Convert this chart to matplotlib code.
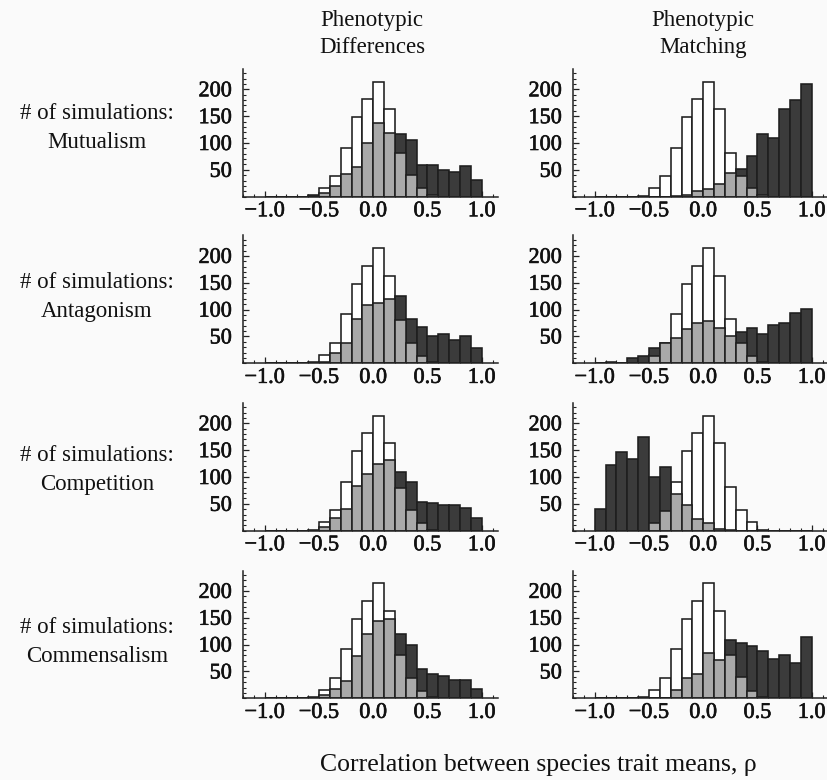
import numpy as np
import matplotlib
matplotlib.use("Agg")
import matplotlib.pyplot as plt
import matplotlib.patheffects as pe
from matplotlib.ticker import MultipleLocator

plt.rcParams['font.family'] = ['Liberation Serif', 'DejaVu Serif']

# ---- data -------------------------------------------------------------
# left edges of the 0.1-wide correlation bins, -1.0 ... 0.9
bin_left = [-1.0, -0.9, -0.8, -0.7, -0.6, -0.5, -0.4, -0.3, -0.2, -0.1,
            0.0, 0.1, 0.2, 0.3, 0.4, 0.5, 0.6, 0.7, 0.8, 0.9]
bin_width = 0.1

column_titles = ["Phenotypic\nDifferences", "Phenotypic\nMatching"]
row_labels = ["Mutualism", "Antagonism", "Competition", "Commensalism"]

# white (background) histogram, same in every panel
white_counts = [0, 0, 0, 0, 2, 16, 38, 91, 148, 182, 214, 163, 82, 39, 16, 2, 0, 0, 0, 0]

# light gray histograms
gray_mut_diff = [0, 0, 0, 0, 0, 7, 19, 42, 55, 100, 137, 119, 81, 40, 16, 3, 0, 0, 0, 0]
gray_mut_match = [0, 0, 0, 0, 0, 0, 0, 2, 4, 10, 14, 24, 45, 39, 16, 4, 0, 0, 0, 0]
gray_ant_diff = [0, 0, 0, 0, 0, 3, 19, 38, 82, 108, 112, 120, 81, 38, 14, 3, 0, 0, 0, 0]
gray_ant_match = [0, 0, 0, 0, 0, 14, 38, 48, 64, 75, 78, 65, 51, 38, 14, 3, 0, 0, 0, 0]
gray_comp_diff = [0, 0, 0, 0, 0, 6, 24, 40, 84, 106, 125, 132, 79, 38, 14, 2, 0, 0, 0, 0]
gray_comp_match = [0, 0, 0, 0, 0, 15, 37, 68, 47, 22, 14, 4, 2, 0, 0, 0, 0, 0, 0, 0]
gray_comm_diff = [0, 0, 0, 0, 0, 6, 17, 32, 78, 120, 144, 147, 80, 38, 14, 3, 0, 0, 0, 0]
gray_comm_match = [0, 0, 0, 0, 0, 0, 0, 16, 38, 45, 85, 72, 80, 39, 14, 3, 0, 0, 0, 0]

# dark histograms
dark_mut_diff = [0, 0, 0, 0, 3, 0, 0, 0, 0, 0, 0, 0, 116, 106, 59, 59, 50, 46, 57, 32]
dark_mut_match = [0, 0, 0, 0, 0, 0, 0, 0, 0, 0, 0, 0, 0, 51, 75, 117, 110, 164, 180, 209]
dark_ant_diff = [0, 0, 0, 0, 1, 0, 0, 0, 0, 0, 0, 0, 125, 83, 68, 51, 54, 43, 51, 29]
dark_ant_match = [0, 3, 1, 9, 14, 28, 0, 0, 0, 0, 0, 0, 0, 58, 65, 54, 71, 75, 93, 102]
dark_comp_diff = [0, 0, 0, 0, 0, 0, 0, 0, 0, 0, 0, 0, 109, 91, 54, 51, 48, 48, 42, 23]
dark_comp_match = [40, 122, 146, 134, 174, 100, 118, 0, 0, 0, 0, 0, 0, 0, 0, 0, 0, 0, 0, 0]
dark_comm_diff = [0, 0, 0, 0, 1, 0, 0, 0, 0, 0, 0, 0, 120, 99, 55, 45, 42, 34, 34, 18]
dark_comm_match = [0, 0, 0, 0, 0, 0, 0, 0, 0, 0, 0, 0, 109, 103, 97, 89, 74, 80, 65, 114]

gray_series = [[gray_mut_diff, gray_mut_match],
               [gray_ant_diff, gray_ant_match],
               [gray_comp_diff, gray_comp_match],
               [gray_comm_diff, gray_comm_match]]
dark_series = [[dark_mut_diff, dark_mut_match],
               [dark_ant_diff, dark_ant_match],
               [dark_comp_diff, dark_comp_match],
               [dark_comm_diff, dark_comm_match]]

x_ticks = [-1.0, -0.5, 0.0, 0.5, 1.0]
x_ticklabels = ["\u22121.0", "\u22120.5", "0.0", "0.5", "1.0"]
y_ticks = [50, 100, 150, 200]

# ---- layout -----------------------------------------------------------
W, H = 827, 780
bg = '#fafafa'
fig = plt.figure(figsize=(W / 100, H / 100), dpi=100, facecolor=bg)

col_left = [243, 573]
ax_w = 255
baselines = [196.7, 363.3, 530.7, 698.3]
ax_h = 127.8
xlim = (-1.2, 1.15)
ylim = (0, 238)

edge = '#1e1e1e'
c_white = '#ffffff'
c_gray = '#a9a9a9'
c_dark = '#3b3b3b'
tick_fs = 16
text_fs = 16.5
thick = [pe.withStroke(linewidth=0.45, foreground='#111111')]

for r in range(4):
    for c in range(2):
        left = col_left[c]
        ax = fig.add_axes([left / W, 1 - baselines[r] / H, ax_w / W, ax_h / H])
        ax.set_facecolor('none')
        kw = dict(width=bin_width, align='edge', edgecolor=edge, linewidth=1.15)
        ax.bar(bin_left, white_counts, color=c_white, zorder=2, **kw)
        ax.bar(bin_left, dark_series[r][c], color=c_dark, zorder=3, **kw)
        ax.bar(bin_left, gray_series[r][c], color=c_gray, zorder=4, **kw)
        ax.set_xlim(*xlim)
        ax.set_ylim(*ylim)
        for s in ['top', 'right']:
            ax.spines[s].set_visible(False)
        for s in ['left', 'bottom']:
            ax.spines[s].set_color('#222222')
            ax.spines[s].set_linewidth(1.1)
            ax.spines[s].set_zorder(6)
        ax.set_xticks(x_ticks)
        ax.set_xticklabels(x_ticklabels)
        ax.xaxis.set_minor_locator(MultipleLocator(0.1))
        ax.set_yticks(y_ticks)
        ax.yaxis.set_minor_locator(MultipleLocator(10))
        ax.tick_params(axis='both', which='major', direction='in', length=4,
                       width=0.9, color='#222222', labelsize=tick_fs)
        ax.tick_params(axis='both', which='minor', direction='in', length=2.2,
                       width=0.8, color='#222222')
        ax.tick_params(axis='x', which='major', pad=4)
        ax.tick_params(axis='y', which='major', pad=8)
        for lab in ax.get_xticklabels() + ax.get_yticklabels():
            lab.set_color('#111111')
            lab.set_path_effects(thick)

# column titles
title_x = [372, 703]
for c in range(2):
    fig.text(title_x[c] / W, 1 - 34 / H, column_titles[c], ha='center', va='center',
             fontsize=text_fs, linespacing=1.4, color='#111111')

# row labels
row_y = [128, 297, 470, 642]
for r in range(4):
    fig.text(97 / W, 1 - row_y[r] / H, "# of simulations:\n" + row_labels[r],
             ha='center', va='center', fontsize=text_fs, linespacing=1.55,
             color='#111111')

fig.text(538 / W, 1 - 765 / H, "Correlation between species trait means, \u03c1",
         ha='center', va='center', fontsize=18.5, color='#111111')

fig.savefig('out.png', dpi=100, facecolor=bg)
